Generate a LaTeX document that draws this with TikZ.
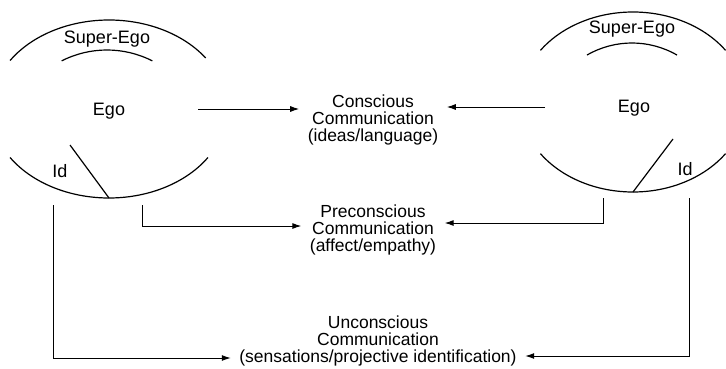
\documentclass[tikz,border=0pt]{standalone}
\usepackage{fontspec}
\setmainfont{Liberation Sans}
\usetikzlibrary{arrows.meta}

\begin{document}
\begin{tikzpicture}[x=1pt, y=1pt, line width=1.2pt,
    lbl/.style={font=\fontsize{18}{20}\selectfont, anchor=base, inner sep=0pt},
    level/.style={font=\fontsize{17.5}{17}\selectfont, align=center, inner sep=8pt},
    arr/.style={line width=1pt, -{Latex[length=9pt,width=6pt]}}]
  \useasboundingbox (0,0) rectangle (726,368);

  % left mind
  \draw (109,259) ++(35:118 and 89) arc[start angle=35, end angle=147, x radius=118, y radius=89];
  \draw (109,259) ++(213:118 and 89) arc[start angle=213, end angle=327, x radius=118, y radius=89];
  \draw (107,218) ++(63:100) arc[start angle=63, end angle=117, radius=100];
  \draw (70,223) -- (109,170);
  \node[lbl] (superL) at (107,325) {Super-Ego};
  \node[lbl] (egoL) at (109,253) {Ego};
  \node[lbl] (idL) at (60,191) {Id};

  % right mind
  \draw (633,266) ++(35:113 and 90) arc[start angle=35, end angle=145, x radius=113, y radius=90];
  \draw (633,266) ++(215:113 and 90) arc[start angle=215, end angle=325, x radius=113, y radius=90];
  \draw (632,235) ++(60:90) arc[start angle=60, end angle=120, radius=90];
  \draw (673,229) -- (633,176);
  \node[lbl] (superR) at (632,335) {Super-Ego};
  \node[lbl] (egoR) at (634,256) {Ego};
  \node[lbl] (idR) at (685,193) {Id};

  % levels of communication
  \node[level] (con) at (373,248) {Conscious\\Communication\\(ideas/language)};
  \node[level] (pre) at (373,138) {Preconscious\\Communication\\(affect/empathy)};
  \node[level] (unc) at (378,27) {Unconscious\\Communication\\(sensations/projective identification)};

  \coordinate (conL) at (198,259);
  \coordinate (conR) at (545,261);
  \coordinate (preL) at (142,163);
  \coordinate (preR) at (603,170);
  \coordinate (uncL) at (53,163);
  \coordinate (uncR) at (689,170);

  \draw[arr] (conL) -- (conL -| con.west);
  \draw[arr] (conR) -- (conR -| con.east);
  \draw[arr] (preL) |- ([yshift=4pt]pre.west);
  \draw[arr] (preR) |- ([yshift=7pt]pre.east);
  \draw[arr] (uncL) |- ([yshift=-17pt]unc.west);
  \draw[arr] (uncR) |- ([yshift=-15pt]unc.east);
\end{tikzpicture}
\end{document}
